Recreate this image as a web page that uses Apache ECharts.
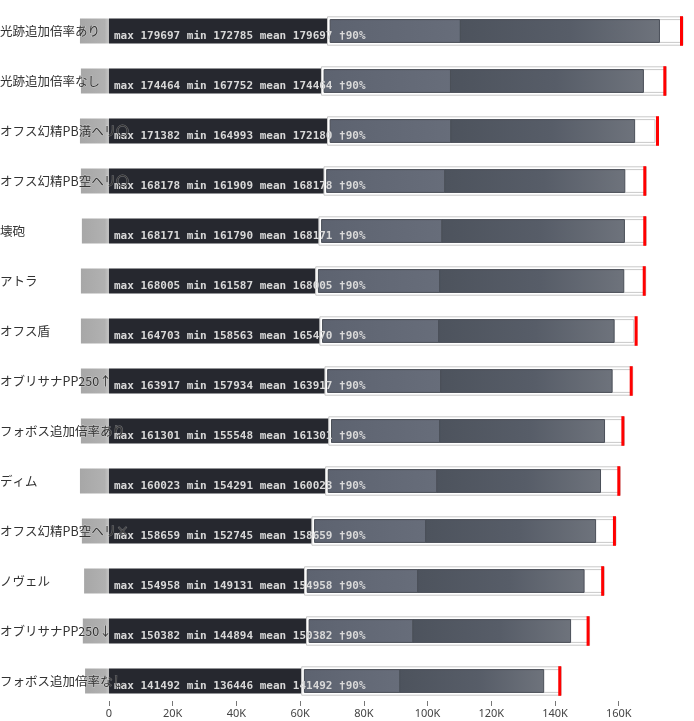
<!DOCTYPE html>
<html>
<head>
<meta charset="utf-8">
<title>chart</title>
<style>
  html, body { margin: 0; padding: 0; background: #fff; }
  #chart_1 { width: 694px; height: 721px; }
</style>
<script src="https://cdn.jsdelivr.net/npm/echarts@6/dist/echarts.min.js"></script>
</head>
<body>
<div id="chart_1"></div>
<script>
// 項目名
var names = ['光跡追加倍率あり', '光跡追加倍率なし', 'オフス幻精PB満ヘリ〇', 'オフス幻精PB空ヘリ〇', '壊砲', 'アトラ', 'オフス盾',
    'オブリサナPP250↑', 'フォボス追加倍率あり', 'ディム', 'オフス幻精PB空ヘリ×', 'ノヴェル', 'オブリサナPP250↓', 'フォボス追加倍率なし'];
var maxs = [179697, 174464, 171382, 168178, 168171, 168005, 164703, 163917, 161301, 160023, 158659, 154958, 150382, 141492];
var mins = [172785, 167752, 164993, 161909, 161790, 161587, 158563, 157934, 155548, 154291, 152745, 149131, 144894, 136446];
var means = [179697, 174464, 172180, 168178, 168171, 168005, 165470, 163917, 161301, 160023, 158659, 154958, 150382, 141492];
// 左の灰色部分 (負の値)
var lefts = [-9100, -8800, -9100, -8800, -8500, -8800, -8800, -8800, -8800, -9100, -8500, -7800, -8200, -7500];
// 黒いバーの終わり
var bases = [68600, 66700, 68600, 67500, 65900, 64900, 66200, 67800, 69000, 68000, 63700, 61400, 62000, 60500];
// 中間色と濃色の境目
var splits = [110300, 107200, 107300, 105400, 104500, 103800, 103500, 104100, 103800, 102900, 99400, 96900, 95400, 91300];
var rate = '†90%';
var ticks = [0, 20000, 40000, 60000, 80000, 100000, 120000, 140000, 160000];

echart_1();

function echart_1() {
    var myChart = echarts.init(document.getElementById('chart_1'));

    var rows = names.map(function (n, i) {
        return [i, lefts[i], bases[i], splits[i], mins[i], maxs[i], means[i]];
    });

    function renderRow(params, api) {
        var i = params.dataIndex;
        var cy = api.coord([0, i])[1];
        var x0 = api.coord([0, i])[0];
        var xl = api.coord([api.value(1), i])[0];
        var xb = api.coord([api.value(2), i])[0];
        var xs = api.coord([api.value(3), i])[0];
        var xmin = api.coord([api.value(4), i])[0];
        var xmax = api.coord([api.value(5), i])[0];
        var xmean = api.coord([api.value(6), i])[0];
        var inset = 2.7;
        var label = 'max ' + maxs[i] + ' min ' + mins[i] + ' mean ' + means[i] + ' ' + rate;
        return {
            type: 'group',
            children: [
                {
                    type: 'rect',
                    shape: { x: xl, y: cy - 12.5, width: x0 - xl, height: 25 },
                    style: {
                        fill: new echarts.graphic.LinearGradient(0, 0, 1, 0, [
                            { offset: 0, color: '#a7a7a7' },
                            { offset: 0.85, color: '#b1b1b1' },
                            { offset: 1, color: '#c6c6c6' }
                        ])
                    }
                },
                {
                    type: 'rect',
                    shape: { x: x0, y: cy - 12.5, width: xb - x0, height: 25 },
                    style: { fill: '#26282f' }
                },
                {
                    type: 'rect',
                    shape: { x: xb, y: cy - 14.2, width: xmax + 1.5 - xb, height: 28.4 },
                    style: { fill: '#fff', stroke: '#c9c9c9', lineWidth: 1 }
                },
                {
                    type: 'rect',
                    shape: { x: xb + inset, y: cy - 11.4, width: xmax - xb - inset, height: 22.8 },
                    style: { fill: '#fff', stroke: '#c9c9c9', lineWidth: 1 }
                },
                {
                    type: 'rect',
                    shape: { x: xb + inset, y: cy - 11.4, width: xs - xb - inset, height: 22.8 },
                    style: {
                        fill: new echarts.graphic.LinearGradient(0, 0, 1, 0, [
                            { offset: 0, color: '#5d6370' },
                            { offset: 1, color: '#676d7a' }
                        ]),
                        stroke: '#4a4f58', lineWidth: 1
                    }
                },
                {
                    type: 'rect',
                    shape: { x: xs, y: cy - 11.4, width: xmin - xs, height: 22.8 },
                    style: {
                        fill: new echarts.graphic.LinearGradient(0, 0, 1, 0, [
                            { offset: 0, color: '#4d535d' },
                            { offset: 0.55, color: '#575d68' },
                            { offset: 1, color: '#6e737c' }
                        ]),
                        stroke: '#4a4f58', lineWidth: 1
                    }
                },
                {
                    type: 'rect',
                    shape: { x: xmean - 1.5, y: cy - 14.8, width: 3, height: 29.6 },
                    style: { fill: '#ff0000' }
                },
                {
                    type: 'text',
                    style: {
                        text: label,
                        x: x0 + 5,
                        y: cy + 5.5,
                        font: 'bold 11px "DejaVu Sans Mono"',
                        fill: '#d9d9d9',
                        align: 'left',
                        verticalAlign: 'middle'
                    }
                }
            ]
        };
    }

    option = {
        animation: false,
        grid: { left: 79, right: 2, top: 6, bottom: 15, containLabel: false, outerBoundsMode: 'none' },
        xAxis: {
            type: 'value',
            min: -9400,
            max: 183000,
            splitLine: { show: false },
            axisLine: { show: false },
            axisTick: {
                show: true,
                inside: true,
                length: 5,
                customValues: ticks,
                lineStyle: { color: '#777' }
            },
            axisLabel: {
                customValues: ticks,
                margin: 2,
                fontSize: 11,
                fontFamily: 'Noto Sans',
                color: '#444',
                formatter: function (v) {
                    return v === 0 ? '0' : (v / 1000) + 'K';
                }
            }
        },
        yAxis: {
            type: 'category',
            inverse: true,
            data: names,
            z: 10,
            axisLine: { show: false },
            axisTick: { show: false },
            axisLabel: {
                align: 'left',
                margin: 79,
                fontSize: 12.5,
                fontFamily: '"Noto Sans CJK JP"',
                color: '#333',
                textBorderColor: 'rgba(255,255,255,0.35)',
                textBorderWidth: 1
            }
        },
        series: [
            {
                type: 'custom',
                renderItem: renderRow,
                clip: false,
                z: 2,
                encode: { y: 0, x: 5 },
                data: rows
            }
        ]
    };

    if (option && typeof option === 'object')
        myChart.setOption(option);
    window.addEventListener("resize", function () {
        myChart.resize();
    });
}
</script>
</body>
</html>
